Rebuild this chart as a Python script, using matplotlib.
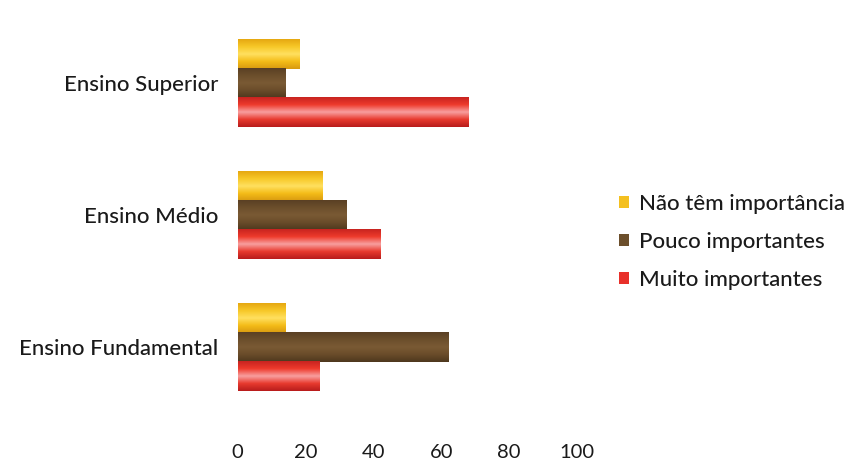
import numpy as np
import matplotlib
matplotlib.use("Agg")
import matplotlib.pyplot as plt
from matplotlib.colors import LinearSegmentedColormap

categories = ["Ensino Fundamental", "Ensino Médio", "Ensino Superior"]
series_names = ["Não têm importância", "Pouco importantes", "Muito importantes"]
nao_tem = [14, 25, 18]
pouco = [62, 32, 14]
muito = [24, 42, 68]
x_ticks = [0, 20, 40, 60, 80, 100]

plt.rcParams["font.family"] = ["Lato", "DejaVu Sans"]

fig = plt.figure(figsize=(8.55, 4.63), dpi=100)
ax = fig.add_axes([0.278, 0.108, 0.397, 0.855])

base_colors = ["#F4C020", "#6C4F2C", "#E8302A"]
shades = [
    ["#D89A10", "#F4BC18", "#FFE060", "#F7C828", "#E6A812"],
    ["#4E381E", "#6A4C2A", "#7A5A34", "#6C4F2C", "#5A4024"],
    ["#B81C1C", "#E83A2E", "#F8A0A0", "#EE3A2C", "#C82420"],
]
values = [nao_tem, pouco, muito]
offsets = [0.22, 0.0, -0.22]
h = 0.222
y = np.arange(len(categories))

for vals, off, col, sh, name in zip(values, offsets, base_colors, shades, series_names):
    bars = ax.barh(y + off, vals, height=h, color=col, label=name,
                   edgecolor="none", zorder=2)
    cmap = LinearSegmentedColormap.from_list("g", sh)
    grad = np.linspace(0, 1, 64).reshape(-1, 1)
    for b in bars:
        x0, y0 = b.get_x(), b.get_y()
        w, hh = b.get_width(), b.get_height()
        im = ax.imshow(grad, cmap=cmap, aspect="auto", origin="lower",
                       extent=(x0, x0 + w, y0, y0 + hh), zorder=3,
                       interpolation="bilinear")
        im.set_clip_path(b)

ax.set_xlim(0, 100)
ax.set_ylim(-0.5, 2.5)
ax.set_yticks(y)
ax.set_yticklabels(categories, fontsize=16, color="#1a1a1a", fontweight="medium")
ax.set_xticks(x_ticks)
ax.set_xticklabels([str(t) for t in x_ticks], fontsize=14.5, color="#1a1a1a")
ax.tick_params(axis="both", length=0)
ax.tick_params(axis="x", pad=22)
ax.tick_params(axis="y", pad=14)
for s in ax.spines.values():
    s.set_visible(False)

handles, labels = ax.get_legend_handles_labels()
leg = fig.legend(handles, labels, loc="center left", bbox_to_anchor=(0.701, 0.477),
                 frameon=False, handlelength=0.45, handleheight=0.45,
                 handletextpad=0.45, labelspacing=0.82,
                 prop={"size": 16, "weight": "medium"})
for t in leg.get_texts():
    t.set_color("#1a1a1a")

fig.savefig("out.png", dpi=100, facecolor="white")
